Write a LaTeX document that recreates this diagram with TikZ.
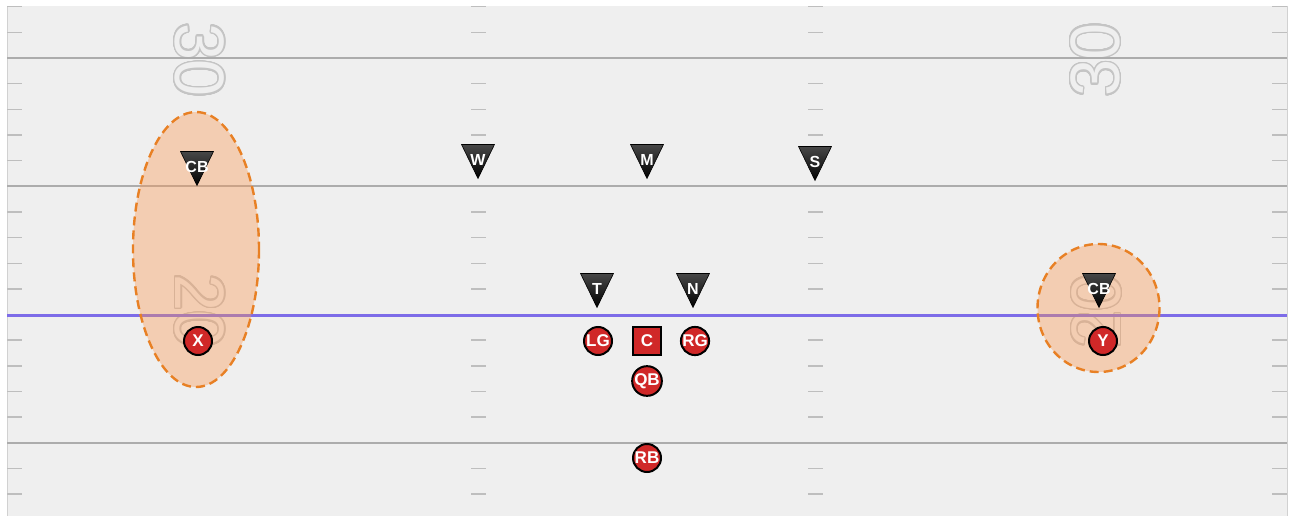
\documentclass[tikz,border=0pt]{standalone}
\usepackage{fontspec}
\setmainfont{Liberation Sans}
\usepackage{contour}
\usetikzlibrary{calc}

\definecolor{turf}{RGB}{239,239,239}
\definecolor{yardgray}{RGB}{172,172,172}
\definecolor{hashgray}{RGB}{190,190,190}
\definecolor{numgray}{RGB}{196,196,196}
\definecolor{losblue}{RGB}{125,108,232}
\definecolor{zoneorange}{RGB}{232,128,36}
\definecolor{zonefill}{RGB}{250,150,80}
\definecolor{offred}{RGB}{208,40,40}

\contourlength{1.4pt}
\contournumber{32}
% outlined yard number
\newcommand{\yardnum}[1]{\scalebox{0.95}[1]{\contour{numgray}{\textcolor{turf}{#1}}}}
% defender: name, label position, text
\newcommand{\defender}[3]{%
  \shade[defshade] ($(#2)+(-16.5,-15.5)$) -- ($(#2)+(16.5,-15.5)$) -- ($(#2)+(0,18.5)$) -- cycle;
  \node[deftext] (#1) at (#2) {#3};}

\begin{document}
\begin{tikzpicture}[x=1pt,y=-1pt,
  offense/.style={circle,draw=black,line width=2pt,fill=offred,text=white,
    font=\bfseries\fontsize{17}{17}\selectfont,minimum size=28,inner sep=0pt},
  center/.style={offense,rectangle,minimum size=28},
  defshade/.style={top color=black!72,bottom color=black,draw=black,line width=0.6pt},
  deftext/.style={inner sep=0pt,text=white,font=\bfseries\fontsize{16}{16}\selectfont},
  zone/.style={draw=zoneorange,line width=2.4pt,dash pattern=on 9pt off 5pt,
    fill=zonefill,fill opacity=0.38},
  yardline/.style={draw=yardgray,line width=2pt},
  hash/.style={draw=hashgray,line width=1.4pt},
  number/.style={font=\fontsize{70}{70}\selectfont,inner sep=0pt}]
  \def\Yd{25.65}  % one yard in px
  \def\Yo{58}     % first yard line
  % field
  \useasboundingbox (0,0) rectangle (1292,516);
  \fill[white] (0,0) rectangle (1292,516);
  \fill[turf] (7,6) rectangle (1287,516);
  \draw[black!18,line width=1pt] (7,6) -- (7,516);
  \draw[black!18,line width=1pt] (1287,6) -- (1287,516);
  % yard numbers
  \node[number,rotate=-90] (n30l) at (199,60) {\yardnum{30}};
  \node[number,rotate=90]  (n30r) at (1096,60) {\yardnum{30}};
  \node[number,rotate=-90] (n20l) at (199,311) {\yardnum{20}};
  \node[number,rotate=90]  (n20r) at (1097,311) {\yardnum{20}};
  % hash marks, every yard
  \foreach \k in {-2,-1,1,2,3,4,6,7,8,9,11,12,13,14,16,17} {
    \draw[hash] (7,{\Yo+\Yd*\k}) -- ++(15,0);
    \draw[hash] (471,{\Yo+\Yd*\k}) -- ++(15,0);
    \draw[hash] (808,{\Yo+\Yd*\k}) -- ++(15,0);
    \draw[hash] (1272,{\Yo+\Yd*\k}) -- ++(15,0);
  }
  % five yard lines
  \foreach \k in {0,5,15}
    \draw[yardline] (7,{\Yo+\Yd*\k}) -- (1287,{\Yo+\Yd*\k});
  % line of scrimmage
  \draw[losblue,line width=3pt] (7,315) -- (1287,315);
  % zones
  \path[zone] (196,249.5) ellipse [x radius=63,y radius=137.5];
  \path[zone] (1098.5,308) ellipse [x radius=61,y radius=64];
  % defense
  \defender{cbl}{197,167}{CB}
  \defender{w}{478,160}{W}
  \defender{m}{647,160}{M}
  \defender{s}{815,162}{S}
  \defender{t}{597,289}{T}
  \defender{n}{693,289}{N}
  \defender{cbr}{1099,289}{CB}
  % offense
  \node[offense] (x)  at (198,341)  {X};
  \node[offense] (lg) at (598,341)  {LG};
  \node[center]  (c)  at (647,341)  {C};
  \node[offense] (rg) at (695,341)  {RG};
  \node[offense] (qb) at (647,381)  {QB};
  \node[offense] (rb) at (647,458)  {RB};
  \node[offense] (y)  at (1103,341) {Y};
\end{tikzpicture}
\end{document}
